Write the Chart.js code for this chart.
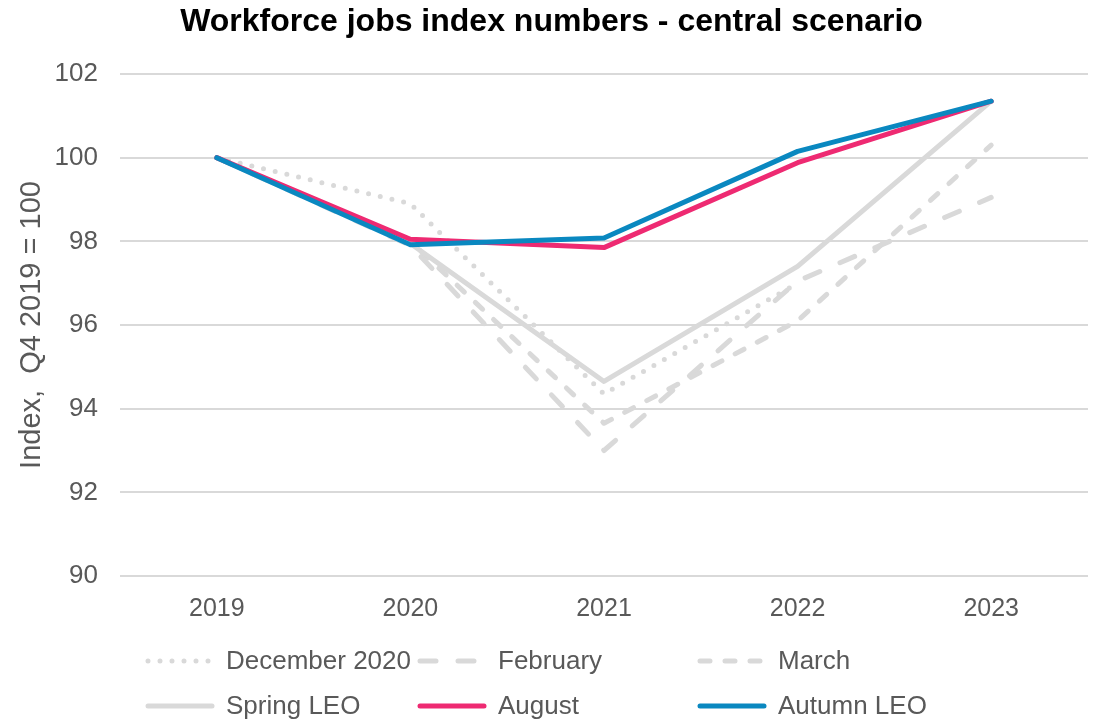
<!DOCTYPE html>
<html>
<head>
<meta charset="utf-8">
<script src="https://cdn.jsdelivr.net/npm/chart.js@4"></script>
<style>
  body { margin: 0; background: #fff; }
  #wrap { width: 1102px; height: 721px; position: relative; }
</style>
</head>
<body>
<div id="wrap"><canvas id="jobsChart"></canvas></div>
<script>
var years = ['2019', '2020', '2021', '2022', '2023'];
var december2020 = [100, 98.9, 94.35, 97.0, null];
var february = [100, 97.9, 93.0, 97.05, 99.05];
var march = [100, 98.0, 93.65, 96.1, 100.3];
var springLeo = [100, 97.95, 94.65, 97.4, 101.35];
var august = [100, 98.05, 97.85, 99.88, 101.35];
var autumnLeo = [100, 97.92, 98.08, 100.15, 101.35];

var grey = '#d9d9d9';
var textGrey = '#595959';
var fontName = '"Liberation Sans", Arial, sans-serif';

function series(label, data, color, dash, order) {
    return {
        label: label,
        data: data,
        borderColor: color,
        backgroundColor: color,
        borderWidth: 5,
        borderDash: dash,
        borderCapStyle: 'round',
        borderJoinStyle: 'round',
        pointRadius: 0,
        pointHoverRadius: 0,
        tension: 0,
        spanGaps: false,
        order: order
    };
}

// legend laid out as a 3 x 2 grid under the x axis
var legendCols = [148, 420, 700];
var legendRows = [661, 706];
var gridLegend = {
    id: 'gridLegend',
    afterDraw: function (chart) {
        var ctx = chart.ctx;
        chart.data.datasets.forEach(function (ds, i) {
            var x = legendCols[i % 3];
            var y = legendRows[Math.floor(i / 3)];
            ctx.save();
            ctx.strokeStyle = ds.borderColor;
            ctx.lineWidth = ds.borderWidth;
            ctx.lineCap = 'round';
            ctx.setLineDash(ds.borderDash || []);
            ctx.beginPath();
            ctx.moveTo(x, y);
            ctx.lineTo(x + 64, y);
            ctx.stroke();
            ctx.setLineDash([]);
            ctx.fillStyle = textGrey;
            ctx.font = '26px ' + fontName;
            ctx.textBaseline = 'middle';
            ctx.fillText(ds.label, x + 78, y + 1);
            ctx.restore();
        });
    }
};

var ctx = document.getElementById('jobsChart').getContext('2d');
var jobsChart = new Chart(ctx, {
    type: 'line',
    data: {
        labels: years,
        datasets: [
            series('December 2020', december2020, grey, [0, 12], 5),
            series('February', february, grey, [16, 22], 4),
            series('March', march, grey, [10, 15], 3),
            series('Spring LEO', springLeo, grey, [], 2),
            series('August', august, '#ee2a72', [], 1),
            series('Autumn LEO', autumnLeo, '#0a88c0', [], 0)
        ]
    },
    options: {
        responsive: true,
        maintainAspectRatio: false,
        animation: false,
        layout: {
            padding: { left: 15, right: 14, top: 0, bottom: 87 }
        },
        plugins: {
            legend: { display: false },
            tooltip: { enabled: false },
            title: {
                display: true,
                text: 'Workforce jobs index numbers - central scenario',
                color: '#000',
                font: { family: fontName, size: 32, weight: 'bold' },
                padding: { top: 3, bottom: 32.6 }
            }
        },
        scales: {
            x: {
                offset: true,
                grid: { display: false },
                border: { display: false },
                ticks: {
                    color: textGrey,
                    font: { family: fontName, size: 25 },
                    padding: 10
                }
            },
            y: {
                min: 90,
                max: 102,
                border: { display: false },
                grid: { color: grey, lineWidth: 2, drawTicks: false },
                afterFit: function (scale) { scale.width = 105; },
                ticks: {
                    stepSize: 2,
                    color: textGrey,
                    font: { family: fontName, size: 26 },
                    padding: 22
                },
                title: {
                    display: true,
                    text: 'Index,  Q4 2019 = 100',
                    color: textGrey,
                    font: { family: fontName, size: 29 },
                    padding: { top: 0, bottom: 0 }
                }
            }
        }
    },
    plugins: [gridLegend]
});
</script>
</body>
</html>
